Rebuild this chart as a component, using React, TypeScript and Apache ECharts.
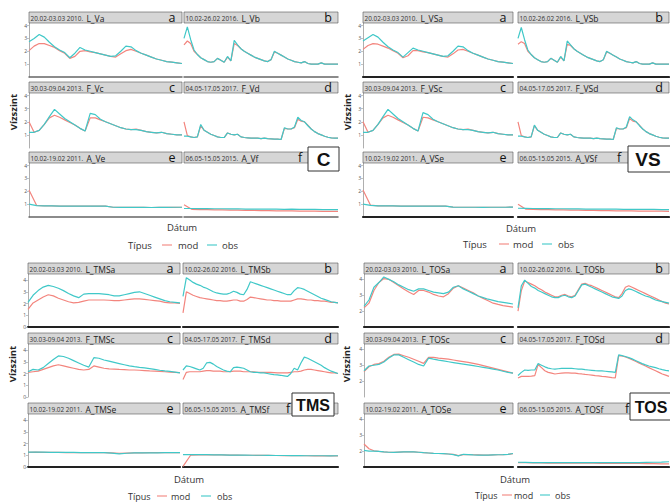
import React, { useEffect, useRef } from "react";
import * as echarts from "echarts";

// ---------------- DATA ----------------
const DATES = ["20.02-03.03 2010.", "10.02-26.02 2016.", "30.03-09.04 2013.", "04.05-17.05 2017.", "10.02-19.02 2011.", "06.05-15.05 2015."];
const LETTERS = ["a", "b", "c", "d", "e", "f"];
const CODES_C = ["L_Va", "L_Vb", "F_Vc", "F_Vd", "A_Ve", "A_Vf"];
const CODES_VS = ["L_VSa", "L_VSb", "F_VSc", "F_VSd", "A_VSe", "A_VSf"];
const CODES_TMS = ["L_TMSa", "L_TMSb", "F_TMSc", "F_TMSd", "A_TMSe", "A_TMSf"];
const CODES_TOS = ["L_TOSa", "L_TOSb", "F_TOSc", "F_TOSd", "A_TOSe", "A_TOSf"];
const TICKS_C = [1, 2, 3, 4];
const TICKS_TMS = [0, 1, 2, 3, 4];
const TICKS_TOS = [2, 3, 4];
const LEGEND_TITLE = "Típus";
const LEGEND_NAMES = ["mod", "obs"];
const X_TITLE = "Dátum";
const Y_TITLE = "Vízszint";

// C panel
const C_a_obs = [2.75,3.0,3.3,3.1,2.7,2.35,2.1,1.9,1.5,1.85,2.3,2.1,2.0,1.9,1.8,1.7,1.6,1.65,2.0,2.4,2.35,2.05,1.85,1.7,1.55,1.4,1.3,1.2,1.15,1.1,1.05];
const C_a_mod = [2.05,2.4,2.6,2.6,2.45,2.3,2.05,1.85,1.45,1.6,2.0,2.05,1.95,1.9,1.8,1.7,1.6,1.55,1.8,2.05,2.15,2.0,1.85,1.7,1.55,1.4,1.3,1.2,1.15,1.1,1.05];
const C_b_obs = [3.0,3.9,2.9,2.1,1.75,1.5,1.35,1.2,1.15,1.2,1.45,1.3,1.15,1.6,1.25,2.85,2.5,2.2,2.0,1.85,1.7,1.55,1.45,1.35,1.25,1.2,1.35,2.0,1.85,1.7,1.55,1.4,1.3,1.2,1.15,1.1,1.2,1.05,1.0,1.0,1.0,1.1,1.0,1.0,1.0,1.0,1.0];
const C_b_mod = [2.5,2.8,2.6,2.0,1.75,1.5,1.35,1.2,1.15,1.2,1.45,1.3,1.15,1.55,1.25,2.6,2.45,2.2,2.0,1.85,1.7,1.55,1.45,1.35,1.25,1.2,1.35,1.95,1.85,1.7,1.55,1.4,1.3,1.2,1.15,1.1,1.2,1.05,1.0,1.0,1.0,1.1,1.0,1.0,1.0,1.0,1.0];
const C_c_obs = [1.2,1.2,1.35,1.8,2.4,2.95,2.6,2.25,2.0,1.75,1.5,1.3,2.65,2.55,2.2,2.0,1.85,1.7,1.55,1.45,1.4,1.4,1.35,1.25,1.2,1.15,1.2,1.1,1.05,1.0,1.0];
const C_c_mod = [2.0,1.2,1.35,1.8,2.3,2.5,2.35,2.15,1.95,1.75,1.5,1.3,2.3,2.3,2.15,2.0,1.85,1.7,1.55,1.45,1.4,1.45,1.35,1.25,1.2,1.15,1.2,1.1,1.05,1.0,1.0];
const C_d_obs = [0.9,0.9,0.85,0.8,0.85,1.8,1.35,1.2,1.05,0.95,0.85,0.8,0.8,1.15,1.05,1.0,1.05,0.85,0.8,0.78,0.75,0.75,0.75,0.72,0.75,0.72,0.7,0.68,0.68,0.65,1.55,1.45,1.45,1.6,2.35,2.1,2.0,1.7,1.45,1.25,1.1,1.0,0.9,0.82,0.78,0.75,0.75];
const C_d_mod = [2.0,0.95,0.85,0.8,0.85,1.7,1.35,1.2,1.05,0.95,0.85,0.8,0.8,1.15,1.05,1.0,1.05,0.85,0.8,0.78,0.75,0.75,0.75,0.72,0.75,0.72,0.7,0.68,0.68,0.65,1.5,1.45,1.45,1.55,2.2,2.05,2.0,1.75,1.45,1.25,1.1,1.0,0.9,0.82,0.78,0.75,0.75];
const C_e_obs = [1.0,0.88,0.86,0.86,0.85,0.85,0.85,0.85,0.84,0.84,0.84,0.76,0.75,0.75,0.75,0.75,0.74,0.75,0.75,0.76,0.76];
const C_e_mod = [2.1,0.9,0.86,0.86,0.85,0.85,0.85,0.85,0.84,0.84,0.84,0.76,0.75,0.75,0.75,0.75,0.74,0.75,0.75,0.75,0.76];
const C_f_obs = [0.66,0.66,0.65,0.65,0.64,0.64,0.63,0.64,0.62,0.62,0.62,0.61,0.61,0.6,0.61,0.6,0.59,0.59,0.58,0.58,0.58];
const C_f_mod = [0.95,0.6,0.58,0.57,0.56,0.55,0.54,0.53,0.52,0.51,0.5,0.49,0.48,0.47,0.47,0.46,0.45,0.45,0.44,0.44,0.43];

// VS panel
const VS_a_obs = [2.8,3.05,3.3,3.1,2.7,2.35,2.1,1.9,1.55,1.9,2.25,2.1,2.0,1.9,1.8,1.7,1.6,1.65,2.0,2.4,2.35,2.05,1.85,1.7,1.55,1.4,1.3,1.2,1.15,1.1,1.05];
const VS_a_mod = [2.15,2.45,2.6,2.55,2.4,2.25,2.05,1.85,1.5,1.65,2.05,2.05,1.95,1.9,1.8,1.7,1.6,1.55,1.8,2.1,2.15,2.0,1.85,1.7,1.55,1.4,1.3,1.2,1.15,1.1,1.05];
const VS_b_obs = [3.0,3.85,2.9,2.1,1.75,1.5,1.35,1.2,1.15,1.2,1.45,1.3,1.15,1.6,1.25,2.8,2.5,2.2,2.0,1.85,1.7,1.55,1.45,1.35,1.25,1.2,1.35,2.0,1.85,1.7,1.55,1.4,1.3,1.2,1.15,1.1,1.2,1.05,1.0,1.0,1.0,1.1,1.0,1.0,1.0,1.0,1.0];
const VS_b_mod = [2.55,2.75,2.6,2.0,1.75,1.5,1.35,1.2,1.15,1.2,1.45,1.3,1.15,1.55,1.25,2.55,2.45,2.2,2.0,1.85,1.7,1.55,1.45,1.35,1.25,1.2,1.35,1.95,1.85,1.7,1.55,1.4,1.3,1.2,1.15,1.1,1.2,1.05,1.0,1.0,1.0,1.1,1.0,1.0,1.0,1.0,1.0];
const VS_c_obs = [1.2,1.2,1.35,1.8,2.4,2.95,2.6,2.25,2.0,1.75,1.5,1.3,2.7,2.55,2.2,2.0,1.85,1.7,1.55,1.45,1.4,1.4,1.35,1.25,1.2,1.15,1.2,1.1,1.05,1.0,1.0];
const VS_c_mod = [2.0,1.2,1.35,1.8,2.3,2.5,2.35,2.15,1.95,1.75,1.5,1.3,2.35,2.3,2.15,2.0,1.85,1.7,1.55,1.45,1.4,1.45,1.35,1.25,1.2,1.15,1.2,1.1,1.05,1.0,1.0];
const VS_d_obs = [0.9,0.9,0.85,0.8,0.85,1.75,1.35,1.2,1.05,0.95,0.85,0.8,0.8,1.15,1.05,1.0,1.05,0.85,0.8,0.78,0.75,0.75,0.75,0.72,0.75,0.72,0.7,0.68,0.68,0.65,1.55,1.45,1.45,1.6,2.4,2.15,2.0,1.7,1.45,1.25,1.1,1.0,0.9,0.82,0.78,0.75,0.75];
const VS_d_mod = [2.0,0.95,0.85,0.8,0.85,1.7,1.35,1.2,1.05,0.95,0.85,0.8,0.8,1.15,1.05,1.0,1.05,0.85,0.8,0.78,0.75,0.75,0.75,0.72,0.75,0.72,0.7,0.68,0.68,0.65,1.5,1.45,1.45,1.55,2.25,2.05,2.0,1.75,1.45,1.25,1.1,1.0,0.9,0.82,0.78,0.75,0.75];
const VS_e_obs = [1.0,0.9,0.87,0.86,0.86,0.85,0.85,0.85,0.84,0.84,0.84,0.84,0.77,0.76,0.76,0.76,0.75,0.76,0.76,0.76,0.77];
const VS_e_mod = [2.1,0.92,0.87,0.86,0.86,0.85,0.85,0.85,0.84,0.84,0.84,0.84,0.77,0.76,0.76,0.76,0.75,0.76,0.76,0.76,0.77];
const VS_f_obs = [0.68,0.67,0.66,0.65,0.65,0.64,0.64,0.63,0.63,0.62,0.62,0.61,0.61,0.61,0.6,0.6,0.6,0.59,0.59,0.58,0.58];
const VS_f_mod = [1.0,0.62,0.6,0.58,0.57,0.56,0.55,0.54,0.53,0.52,0.51,0.5,0.49,0.48,0.48,0.47,0.46,0.46,0.45,0.45,0.44];

// TMS panel
const TMS_a_obs = [2.1,2.7,3.1,3.4,3.55,3.45,3.3,3.1,2.85,2.65,2.5,2.8,2.85,2.85,2.85,2.8,2.75,2.65,2.65,2.75,2.85,2.95,3.0,2.85,2.7,2.55,2.4,2.25,2.15,2.1,2.05];
const TMS_a_mod = [1.5,2.05,2.3,2.55,2.75,2.65,2.45,2.3,2.15,2.05,2.1,2.2,2.3,2.3,2.3,2.3,2.28,2.25,2.25,2.3,2.35,2.4,2.4,2.35,2.3,2.25,2.2,2.1,2.05,2.05,2.0];
const TMS_b_obs = [2.6,4.2,4.0,3.8,3.65,3.55,3.4,3.3,3.15,3.0,2.9,2.85,2.8,2.8,2.9,3.05,2.95,2.8,2.75,3.2,3.85,3.75,3.65,3.55,3.45,3.35,3.25,3.15,3.05,2.95,2.85,2.75,2.75,3.1,3.35,3.3,3.2,3.05,2.9,2.75,2.6,2.45,2.35,2.25,2.15,2.1,2.05];
const TMS_b_mod = [1.2,3.0,2.85,2.7,2.6,2.5,2.45,2.4,2.35,2.3,2.25,2.25,2.2,2.2,2.25,2.3,2.3,2.2,2.2,2.35,2.55,2.5,2.45,2.4,2.35,2.3,2.3,2.25,2.25,2.2,2.2,2.2,2.2,2.3,2.4,2.4,2.35,2.3,2.3,2.25,2.25,2.2,2.2,2.15,2.1,2.1,2.05];
const TMS_c_obs = [2.15,2.35,2.3,2.5,2.85,3.2,3.5,3.45,3.3,3.1,2.9,2.7,2.55,3.35,3.3,3.15,3.05,2.95,2.85,2.75,2.65,2.58,2.52,2.48,2.42,2.35,2.28,2.22,2.18,2.12,2.05];
const TMS_c_mod = [2.1,2.15,2.2,2.35,2.5,2.65,2.75,2.65,2.55,2.45,2.35,2.3,2.35,2.65,2.55,2.45,2.4,2.38,2.35,2.33,2.3,2.3,2.28,2.25,2.22,2.2,2.18,2.15,2.12,2.1,2.08];
const TMS_d_obs = [2.3,2.65,2.6,2.5,2.4,2.3,2.45,2.9,2.95,2.8,2.6,2.45,2.3,2.2,2.15,2.5,2.55,2.5,2.45,2.3,2.15,2.1,2.1,2.05,2.05,2.0,1.95,1.9,1.88,1.85,1.8,1.75,2.0,2.45,2.3,2.9,3.4,3.3,3.15,3.0,2.85,2.7,2.5,2.35,2.2,2.1,2.0];
const TMS_d_mod = [1.5,2.1,2.15,2.15,2.15,2.15,2.2,2.25,2.25,2.2,2.2,2.2,2.15,2.15,2.15,2.2,2.2,2.2,2.15,2.15,2.15,2.15,2.1,2.1,2.1,2.1,2.1,2.08,2.05,2.05,2.05,2.05,2.1,2.15,2.15,2.2,2.3,2.35,2.35,2.3,2.25,2.2,2.15,2.1,2.05,2.05,2.0];
const TMS_e_obs = [1.27,1.27,1.26,1.25,1.25,1.24,1.24,1.23,1.23,1.22,1.22,1.18,1.12,1.17,1.2,1.2,1.21,1.21,1.22,1.22,1.23];
const TMS_e_mod = [1.25,1.26,1.25,1.24,1.24,1.23,1.23,1.23,1.22,1.22,1.22,1.2,1.16,1.19,1.21,1.21,1.22,1.22,1.23,1.23,1.23];
const TMS_f_obs = [1.05,1.06,1.05,1.05,1.04,1.03,1.02,1.02,1.01,1.0,1.0,0.99,0.98,0.98,0.97,0.97,0.96,0.96,0.96,0.95,0.96];
const TMS_f_mod = [0.05,1.02,1.04,1.04,1.03,1.03,1.02,1.01,1.0,1.0,0.99,0.99,0.98,0.97,0.97,0.96,0.96,0.95,0.95,0.95,0.95];

// TOS panel
const TOS_a_obs = [2.3,2.7,3.5,3.8,4.15,4.0,3.85,3.65,3.5,3.35,3.25,3.4,3.4,3.3,3.2,3.15,3.1,3.2,3.5,3.6,3.4,3.25,3.1,2.95,2.85,2.75,2.68,2.6,2.55,2.5,2.45];
const TOS_a_mod = [2.2,2.5,3.3,3.8,4.05,4.0,3.8,3.6,3.4,3.2,3.05,3.3,3.3,3.2,3.05,2.95,2.9,3.1,3.45,3.6,3.45,3.3,3.15,2.95,2.8,2.65,2.5,2.42,2.35,2.3,2.25];
const TOS_b_obs = [2.2,3.6,3.95,3.75,3.55,3.45,3.3,3.2,3.1,3.0,2.9,2.85,2.85,2.95,3.0,2.9,2.85,2.95,3.3,3.65,3.7,3.6,3.5,3.4,3.3,3.2,3.1,3.0,2.9,2.85,2.8,2.95,3.3,3.4,3.35,3.25,3.15,3.05,2.95,2.9,2.8,2.7,2.65,2.6,2.55,2.5];
const TOS_b_mod = [2.0,3.3,3.9,3.8,3.7,3.6,3.45,3.35,3.2,3.1,3.0,2.9,2.9,3.0,3.05,2.95,2.9,3.0,3.35,3.7,3.75,3.65,3.6,3.5,3.4,3.3,3.2,3.1,3.0,2.9,2.85,3.1,3.5,3.6,3.5,3.4,3.3,3.2,3.1,3.0,2.9,2.8,2.7,2.6,2.5,2.45];
const TOS_c_obs = [2.65,2.95,3.0,3.05,3.2,3.45,3.65,3.65,3.5,3.35,3.2,3.05,2.95,3.45,3.38,3.32,3.27,3.22,3.17,3.12,3.07,3.02,2.97,2.92,2.87,2.82,2.76,2.7,2.62,2.55,2.5];
const TOS_c_mod = [2.6,2.9,3.05,3.1,3.25,3.5,3.68,3.7,3.6,3.5,3.38,3.25,3.12,3.5,3.5,3.45,3.42,3.38,3.33,3.28,3.23,3.18,3.12,3.05,2.98,2.9,2.82,2.74,2.66,2.58,2.5];
const TOS_d_obs = [2.35,2.55,2.7,2.68,2.7,2.7,3.1,3.0,2.9,2.82,2.78,2.75,2.78,2.8,2.8,2.8,2.8,2.78,2.76,2.75,2.72,2.7,2.68,2.66,2.65,2.64,2.62,2.6,2.58,2.55,3.65,3.6,3.55,3.48,3.4,3.3,3.2,3.1,3.02,2.95,2.9,2.85,2.78,2.72,2.68,2.65];
const TOS_d_mod = [2.2,2.3,2.3,2.3,2.32,2.35,3.05,2.85,2.65,2.55,2.5,2.45,2.48,2.5,2.52,2.52,2.5,2.5,2.47,2.45,2.42,2.4,2.38,2.35,2.33,2.3,2.28,2.25,2.22,2.2,3.6,3.58,3.52,3.45,3.35,3.25,3.15,3.05,2.95,2.85,2.75,2.65,2.55,2.45,2.38,2.3];
const TOS_e_obs = [2.05,2.0,2.0,1.98,1.95,1.93,1.92,1.94,1.95,1.95,1.95,1.93,1.9,1.88,1.86,1.85,1.84,1.82,1.78,1.7,1.8,1.78,1.76,1.75,1.75,1.75,1.76,1.77,1.78,1.8,1.85];
const TOS_e_mod = [2.45,2.15,2.02,1.98,1.95,1.93,1.92,1.94,1.95,1.95,1.95,1.93,1.9,1.88,1.86,1.85,1.84,1.82,1.8,1.72,1.78,1.78,1.77,1.76,1.75,1.75,1.76,1.77,1.78,1.8,1.84];
const TOS_f_obs = [1.3,1.29,1.28,1.28,1.28,1.27,1.27,1.27,1.27,1.28,1.28,1.27,1.27,1.27,1.28,1.28,1.28,1.29,1.3,1.31,1.33];
const TOS_f_mod = [1.28,1.27,1.26,1.26,1.25,1.25,1.25,1.25,1.24,1.24,1.24,1.23,1.23,1.23,1.22,1.22,1.22,1.21,1.21,1.2,1.2];

const PANELS = [
  { key: "C", label: "C", codes: CODES_C, ticks: TICKS_C, ymin: 0, ymax: 4.2,
    series: [[C_a_mod, C_a_obs], [C_b_mod, C_b_obs], [C_c_mod, C_c_obs], [C_d_mod, C_d_obs], [C_e_mod, C_e_obs], [C_f_mod, C_f_obs]] },
  { key: "VS", label: "VS", codes: CODES_VS, ticks: TICKS_C, ymin: 0, ymax: 4.2,
    series: [[VS_a_mod, VS_a_obs], [VS_b_mod, VS_b_obs], [VS_c_mod, VS_c_obs], [VS_d_mod, VS_d_obs], [VS_e_mod, VS_e_obs], [VS_f_mod, VS_f_obs]] },
  { key: "TMS", label: "TMS", codes: CODES_TMS, ticks: TICKS_TMS, ymin: 0, ymax: 4.6,
    series: [[TMS_a_mod, TMS_a_obs], [TMS_b_mod, TMS_b_obs], [TMS_c_mod, TMS_c_obs], [TMS_d_mod, TMS_d_obs], [TMS_e_mod, TMS_e_obs], [TMS_f_mod, TMS_f_obs]] },
  { key: "TOS", label: "TOS", codes: CODES_TOS, ticks: TICKS_TOS, ymin: 1, ymax: 4.4,
    series: [[TOS_a_mod, TOS_a_obs], [TOS_b_mod, TOS_b_obs], [TOS_c_mod, TOS_c_obs], [TOS_d_mod, TOS_d_obs], [TOS_e_mod, TOS_e_obs], [TOS_f_mod, TOS_f_obs]] },
];

// ---------------- LAYOUT / STYLE ----------------
const MOD_COLOR = "#F3857E";
const OBS_COLOR = "#40C8C8";
const FONT = "'Open Sans', 'Liberation Sans', sans-serif";
const STRIP_H = 11;

const GEOM: any = {
  C: { cols: [[29, 182], [184, 338]], strips: [12, 82, 152], plots: [[23, 77], [93, 148], [163, 217]],
    axisColor: "#666", axisWidth: 1.5, fX: 300, box: { x: 308, y: 147, w: 31, h: 24, tx: 323.5, fs: 19 },
    ylab: [13, 112], xlab: [182, 227], leg: { y: 245, fs: 9.5, x: [128, 162, 178, 207, 222] } },
  VS: { cols: [[363, 513], [518, 669]], strips: [12, 82, 152], plots: [[23, 77], [93, 148], [163, 217]],
    axisColor: "#222", axisWidth: 2.2, fX: 619, box: { x: 628, y: 146, w: 46, h: 26, tx: 648, fs: 19 },
    ylab: [347, 112], xlab: [521, 228], leg: { y: 244, fs: 9.5, x: [463, 499, 513, 542, 558] } },
  TMS: { cols: [[28, 180], [183, 338]], strips: [263, 333, 403], plots: [[273, 327], [343, 397], [413, 467]],
    axisColor: "#222", axisWidth: 2.2, fX: 288, box: { x: 292, y: 393, w: 42, h: 23, tx: 313, fs: 16 },
    ylab: [12, 364], xlab: [189, 479], leg: { y: 496, fs: 9, x: [128, 157, 171, 201, 217] } },
  TOS: { cols: [[364, 513], [518, 669]], strips: [263, 333, 403], plots: [[273, 327], [343, 397], [413, 467]],
    axisColor: "#222", axisWidth: 2.2, fX: 627, box: { x: 630, y: 393, w: 44, h: 27, tx: 651, fs: 16 },
    ylab: [346, 364], xlab: [515, 479], leg: { y: 495, fs: 9, x: [475, 502, 514, 540, 555] } },
};

function toXY(arr: number[]) {
  return arr.map((v, i) => [i, v]);
}

function buildOption() {
  const grid: any[] = [];
  const xAxis: any[] = [];
  const yAxis: any[] = [];
  const series: any[] = [];
  const graphic: any[] = [];

  PANELS.forEach((p) => {
    const g = GEOM[p.key];
    for (let i = 0; i < 6; i++) {
      const r = Math.floor(i / 2);
      const c = i % 2;
      const [x0, x1] = g.cols[c];
      const [t, b] = g.plots[r];
      const gi = grid.length;
      const [mod, obs] = p.series[i];
      grid.push({ left: x0, top: t, width: x1 - x0, height: b - t, outerBoundsMode: "none", containLabel: false });
      xAxis.push({
        type: "value", gridIndex: gi, min: 0, max: mod.length - 1,
        axisLine: { show: r !== 1, onZero: false, lineStyle: { color: g.axisColor, width: g.axisWidth } },
        axisTick: { show: false }, axisLabel: { show: false }, splitLine: { show: false },
      });
      yAxis.push({
        type: "value", gridIndex: gi, min: p.ymin, max: p.ymax, interval: 1,
        axisLine: { show: c === 0, lineStyle: { color: "#9a9a9a", width: 0.8 } },
        axisTick: { show: c === 0, length: 2, customValues: p.ticks, lineStyle: { color: "#9a9a9a", width: 0.6 } },
        axisLabel: {
          show: c === 0, fontSize: 5, color: "#555", margin: 2, fontFamily: FONT, customValues: p.ticks,
          formatter: (v: number) => (p.ticks.indexOf(v) >= 0 ? String(v) : ""),
        },
        splitLine: { show: false },
      });
      series.push({
        type: "line", name: LEGEND_NAMES[0], xAxisIndex: gi, yAxisIndex: gi, data: toXY(mod),
        showSymbol: false, symbol: "none", silent: true, z: 2,
        lineStyle: { color: MOD_COLOR, width: 1.2 }, itemStyle: { color: MOD_COLOR },
      });
      series.push({
        type: "line", name: LEGEND_NAMES[1], xAxisIndex: gi, yAxisIndex: gi, data: toXY(obs),
        showSymbol: false, symbol: "none", silent: true, z: 3,
        lineStyle: { color: OBS_COLOR, width: 1.2 }, itemStyle: { color: OBS_COLOR },
      });

      // strip
      const sy = g.strips[r];
      graphic.push({
        type: "rect", shape: { x: x0, y: sy, width: x1 - x0, height: STRIP_H },
        style: { fill: "#d6d6d6", stroke: "#555", lineWidth: 0.6 }, z: 10,
      });
      graphic.push({
        type: "text", x: x0 + 1.5, y: sy + STRIP_H / 2 + 0.5, z: 11,
        style: {
          text: `{d|${DATES[i]}} {c|${p.codes[i]}}`, verticalAlign: "middle", align: "left",
          rich: {
            d: { fontSize: 6.4, fill: "#333", fontFamily: FONT },
            c: { fontSize: 8.5, fill: "#222", fontFamily: FONT },
          },
        },
      });
      const lx = i === 5 ? g.fX : x1 - 10;
      graphic.push({
        type: "text", x: lx, y: sy + STRIP_H / 2, z: 11,
        style: { text: LETTERS[i], fontSize: 12.5, fill: "#111", fontFamily: FONT, align: "center", verticalAlign: "middle" },
      });
    }
    // y title
    graphic.push({
      type: "text", x: g.ylab[0], y: g.ylab[1], rotation: Math.PI / 2, z: 11,
      style: { text: Y_TITLE, fontSize: 9.5, fontWeight: "bold", fill: "#222", fontFamily: FONT, align: "center", verticalAlign: "middle" },
    });
    // x title
    graphic.push({
      type: "text", x: g.xlab[0], y: g.xlab[1], z: 11,
      style: { text: X_TITLE, fontSize: 9.5, fill: "#333", fontFamily: FONT, align: "center", verticalAlign: "middle" },
    });
    // legend
    const L = g.leg;
    graphic.push({ type: "text", x: L.x[0], y: L.y, z: 11, style: { text: LEGEND_TITLE, fontSize: L.fs, fill: "#333", fontFamily: FONT, align: "left", verticalAlign: "middle" } });
    graphic.push({ type: "line", z: 11, shape: { x1: L.x[1], y1: L.y, x2: L.x[1] + 10, y2: L.y }, style: { stroke: MOD_COLOR, lineWidth: 1.1 } });
    graphic.push({ type: "text", x: L.x[2], y: L.y, z: 11, style: { text: LEGEND_NAMES[0], fontSize: L.fs, fill: "#333", fontFamily: FONT, align: "left", verticalAlign: "middle" } });
    graphic.push({ type: "line", z: 11, shape: { x1: L.x[3], y1: L.y, x2: L.x[3] + 10, y2: L.y }, style: { stroke: OBS_COLOR, lineWidth: 1.1 } });
    graphic.push({ type: "text", x: L.x[4], y: L.y, z: 11, style: { text: LEGEND_NAMES[1], fontSize: L.fs, fill: "#333", fontFamily: FONT, align: "left", verticalAlign: "middle" } });
    // box
    const B = g.box;
    graphic.push({ type: "rect", z: 20, shape: { x: B.x, y: B.y, width: B.w, height: B.h }, style: { fill: "#fff", stroke: "#333", lineWidth: 1 } });
    graphic.push({
      type: "text", x: B.tx, y: B.y + B.h / 2 + 0.5, z: 21,
      style: { text: p.label, fontSize: B.fs, fontWeight: "bold", fill: "#111", fontFamily: "'Liberation Sans', Arial, sans-serif", align: "center", verticalAlign: "middle" },
    });
  });

  return { animation: false, backgroundColor: "#fff", grid, xAxis, yAxis, series, graphic };
}

export default function App() {
  const ref = useRef<HTMLDivElement>(null);
  useEffect(() => {
    if (!ref.current) return;
    const chart = echarts.init(ref.current, undefined, { renderer: "svg" });
    chart.setOption(buildOption() as any);
    return () => chart.dispose();
  }, []);
  return <div ref={ref} style={{ position: "fixed", left: 0, top: 0, width: 670, height: 502, background: "#fff" }} />;
}
